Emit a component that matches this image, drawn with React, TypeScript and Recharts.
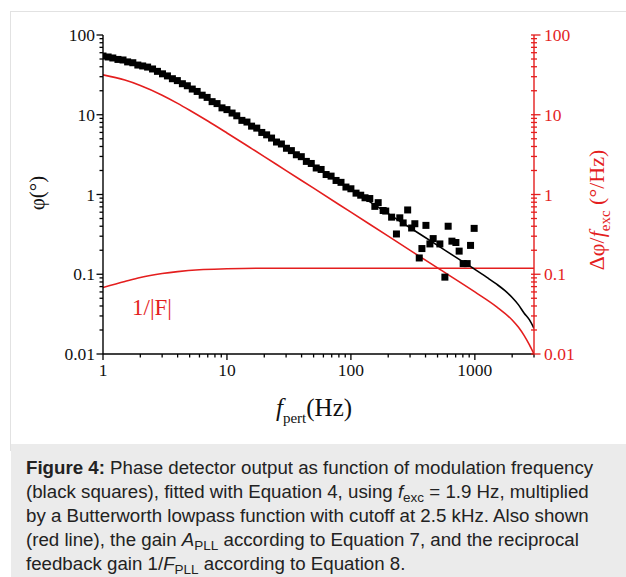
import React from "react";
import { ComposedChart, Line, Scatter, XAxis, YAxis, Label } from "recharts";

// measured phase, dense low-frequency part (Hz, degrees)
const bandFreq = [
    1.0, 1.1, 1.2, 1.32, 1.45, 1.58, 1.74, 1.91, 2.09, 2.29, 2.51, 2.75, 3.02, 3.31,
    3.63, 3.98, 4.37, 4.79, 5.25, 5.75, 6.31, 6.92, 7.59, 8.32, 9.12, 10.0, 11.0, 12.0,
    13.2, 14.5, 15.8, 17.4, 19.1, 20.9, 22.9, 25.1, 27.5, 30.2, 33.1, 36.3, 39.8, 43.7,
    47.9, 52.5, 57.5, 63.1, 69.2, 75.9, 83.2, 91.2, 100, 110, 120,
]
const bandPhase = [
    54.5, 53.0, 51.5, 49.4, 48.6, 46.0, 44.9, 42.0, 40.9, 39.6, 37.5, 35.0, 32.6, 30.7,
    28.3, 26.8, 24.5, 23.1, 21.0, 19.6, 17.6, 16.5, 14.6, 13.8, 12.2, 11.6, 10.5, 9.7,
    8.5, 8.1, 7.2, 6.8, 6.0, 5.6, 5.1, 4.55, 4.3, 3.8, 3.55, 3.15, 2.98, 2.6,
    2.45, 2.15, 2.06, 1.78, 1.7, 1.5, 1.42, 1.24, 1.18, 1.04, 0.98,
]

// measured phase, noisy high-frequency part
const noisyFreq = [
    130, 142, 156, 166, 182, 191, 213, 233, 248, 264, 287, 309, 328, 356,
    374, 403, 434, 461, 522, 573, 609, 653, 703, 747, 805, 867, 923, 987,
]
const noisyPhase = [
    0.91, 0.89, 0.71, 0.79, 0.63, 0.62, 0.52, 0.32, 0.51, 0.44, 0.64, 0.38, 0.43, 0.16,
    0.21, 0.41, 0.24, 0.28, 0.24, 0.092, 0.4, 0.26, 0.25, 0.195, 0.136, 0.136, 0.23, 0.376,
]

// fit (Equation 4 x Butterworth)
const fitFreq = [1, 2, 3, 5, 10, 20, 50, 100, 200, 300, 500, 700, 1000, 1250, 1500, 1750, 2000, 2250, 2500, 2750, 3000]
const fitPhase = [53.5, 41.7, 32.4, 21.5, 11.3, 5.72, 2.3, 1.15, 0.575, 0.383, 0.23, 0.164, 0.115, 0.0913, 0.075, 0.0622, 0.051, 0.0413, 0.0325, 0.027, 0.021]

// gain A_PLL (Equation 7)
const gainFreq = [1, 1.5, 2, 3, 4, 5, 7, 10, 15, 20, 30, 50, 100, 200, 500, 1000, 1500, 2000, 2250, 2500, 2750, 3000]
const gainValue = [31.6, 27.2, 23.3, 17.6, 13.9, 11.4, 8.34, 5.91, 3.97, 2.99, 1.99, 1.2, 0.6, 0.3, 0.12, 0.06, 0.039, 0.0267, 0.0216, 0.017, 0.0131, 0.01]

// reciprocal feedback gain 1/|F| (Equation 8)
const feedbackFreq = [1, 1.5, 2, 3, 4, 6, 10, 20, 100, 1000, 3000]
const feedbackValue = [0.068, 0.081, 0.091, 0.102, 0.108, 0.114, 0.117, 0.119, 0.119, 0.119, 0.119]

const xMajor = [1, 10, 100, 1000]
const xMinor = [2, 3, 4, 5, 6, 7, 8, 9, 20, 30, 40, 50, 60, 70, 80, 90, 200, 300, 400, 500, 600, 700, 800, 900, 2000, 3000]
const yMajor = [0.01, 0.1, 1, 10, 100]
const yMinor = [
    0.02, 0.03, 0.04, 0.05, 0.06, 0.07, 0.08, 0.09, 0.2, 0.3, 0.4, 0.5, 0.6, 0.7, 0.8, 0.9,
    2, 3, 4, 5, 6, 7, 8, 9, 20, 30, 40, 50, 60, 70, 80, 90,
]

const RED = "#e41e1e"
const SERIF = "'Liberation Serif', 'Times New Roman', serif"
const TICK_FONT = 17.5

const toPoints = (fs: number[], vs: number[]) => fs.map((f, i) => ({ f, v: vs[i] }))

const bandData = toPoints(bandFreq, bandPhase)
const noisyData = toPoints(noisyFreq, noisyPhase)
const fitData = toPoints(fitFreq, fitPhase)
const gainData = toPoints(gainFreq, gainValue)
const feedbackData = toPoints(feedbackFreq, feedbackValue)

const xTicks = [...xMajor, ...xMinor].sort((a, b) => a - b)
const yTicks = [...yMajor, ...yMinor].sort((a, b) => a - b)

function BottomTick({ x, y, payload }: any) {
    const major = xMajor.includes(payload.value)
    return (
        <g>
            <line x1={x} x2={x} y1={y} y2={y + (major ? 6 : 3.5)} stroke="#000" strokeWidth={1.3} />
            {major && (
                <text x={x} y={y + 22} textAnchor="middle" fontFamily={SERIF} fontSize={TICK_FONT} fill="#111">
                    {payload.value}
                </text>
            )}
        </g>
    )
}

function TopTick({ x, y, payload }: any) {
    const major = xMajor.includes(payload.value)
    return <line x1={x} x2={x} y1={y} y2={y + (major ? 6 : 3.5)} stroke="#000" strokeWidth={1.3} />
}

function LeftTick({ x, y, payload }: any) {
    const major = yMajor.includes(payload.value)
    return (
        <g>
            <line x1={x - (major ? 6.5 : 3.5)} x2={x} y1={y} y2={y} stroke="#000" strokeWidth={1.3} />
            {major && (
                <text x={x - 8} y={y} dy="0.35em" textAnchor="end" fontFamily={SERIF} fontSize={TICK_FONT} fill="#111">
                    {payload.value}
                </text>
            )}
        </g>
    )
}

function RightTick({ x, y, payload }: any) {
    const major = yMajor.includes(payload.value)
    return (
        <g>
            <line x1={x - 3} x2={x + (major ? 6.5 : 3)} y1={y} y2={y} stroke={RED} strokeWidth={1.3} />
            {major && (
                <text x={x + 10} y={y} dy="0.35em" textAnchor="start" fontFamily={SERIF} fontSize={TICK_FONT} fill={RED}>
                    {payload.value}
                </text>
            )}
        </g>
    )
}

const squareShape = (props: any) => (
    <rect x={props.cx - 3.5} y={props.cy - 3.5} width={7} height={7} fill="#000" />
)

function Chart() {
    return (
        <ComposedChart width={626} height={444} margin={{ top: 35, right: 0, bottom: 0, left: 0 }}>
            <XAxis
                xAxisId="bottom"
                dataKey="f"
                type="number"
                scale="log"
                domain={[1, 3000]}
                allowDataOverflow
                ticks={xTicks}
                interval={0}
                tickSize={0}
                tickMargin={0}
                tick={<BottomTick />}
                axisLine={{ stroke: "#000", strokeWidth: 1.4 }}
                height={90}
            >
                <Label
                    content={() => (
                        <text x={276} y={416} fontFamily={SERIF} fontSize={25} fill="#111">
                            <tspan fontStyle="italic">f</tspan>
                            <tspan fontSize={15} dy={7}>pert</tspan>
                            <tspan dy={-7}>(Hz)</tspan>
                        </text>
                    )}
                />
            </XAxis>
            <XAxis
                xAxisId="top"
                orientation="top"
                dataKey="f"
                type="number"
                scale="log"
                domain={[1, 3000]}
                allowDataOverflow
                ticks={xTicks}
                interval={0}
                tickSize={0}
                tickMargin={0}
                tick={<TopTick />}
                axisLine={{ stroke: "#000", strokeWidth: 1.4 }}
                height={0}
            />
            <YAxis
                yAxisId="left"
                type="number"
                scale="log"
                domain={[0.01, 100]}
                allowDataOverflow
                ticks={yTicks}
                interval={0}
                tickSize={0}
                tickMargin={0}
                tick={<LeftTick />}
                axisLine={{ stroke: "#000", strokeWidth: 1.4 }}
                width={103}
            >
                <Label
                    content={() => (
                        <text
                            x={44}
                            y={193}
                            transform="rotate(-90 44 193)"
                            textAnchor="middle"
                            fontFamily={SERIF}
                            fontSize={21}
                            fill="#111"
                        >
                            φ(°)
                        </text>
                    )}
                />
            </YAxis>
            <YAxis
                yAxisId="right"
                orientation="right"
                type="number"
                scale="log"
                domain={[0.01, 100]}
                allowDataOverflow
                ticks={yTicks}
                interval={0}
                tickSize={0}
                tickMargin={0}
                tick={<RightTick />}
                axisLine={{ stroke: RED, strokeWidth: 1.4 }}
                width={92}
            >
                <Label
                    content={() => (
                        <text
                            x={604}
                            y={210}
                            transform="rotate(-90 604 210)"
                            textAnchor="middle"
                            fontFamily={SERIF}
                            fontSize={22}
                            fill={RED}
                        >
                            Δφ/<tspan fontStyle="italic">f</tspan>
                            <tspan fontSize={15} dy={6}>exc</tspan>
                            <tspan dy={-6}> (°/Hz)</tspan>
                        </text>
                    )}
                />
            </YAxis>

            <Line
                data={feedbackData}
                xAxisId="bottom"
                yAxisId="right"
                dataKey="v"
                type="monotone"
                stroke={RED}
                strokeWidth={1.6}
                dot={false}
                isAnimationActive={false}
            />
            <Line
                data={gainData}
                xAxisId="bottom"
                yAxisId="right"
                dataKey="v"
                type="monotone"
                stroke={RED}
                strokeWidth={1.6}
                dot={false}
                isAnimationActive={false}
            />
            <Line
                data={fitData}
                xAxisId="bottom"
                yAxisId="left"
                dataKey="v"
                type="monotone"
                stroke="#000"
                strokeWidth={1.6}
                dot={false}
                isAnimationActive={false}
            />
            <Scatter
                data={bandData}
                xAxisId="bottom"
                yAxisId="left"
                dataKey="v"
                shape={squareShape}
                isAnimationActive={false}
            />
            <Scatter
                data={noisyData}
                xAxisId="bottom"
                yAxisId="left"
                dataKey="v"
                shape={squareShape}
                isAnimationActive={false}
            />
            <text x={132} y={315} fontFamily={SERIF} fontSize={23} fill={RED}>
                1/|F|
            </text>
        </ComposedChart>
    )
}

const subStyle: React.CSSProperties = { fontSize: 13.5, position: "relative", top: 4, lineHeight: 0 }

export default function App() {
    return (
        <div style={{ position: "absolute", left: 0, top: 0, width: 626, height: 577, overflow: "hidden", background: "#fff" }}>
            <div
                style={{
                    position: "absolute",
                    left: 10,
                    top: 11,
                    width: 640,
                    height: 440,
                    border: "1px solid #e2e2e2",
                    boxSizing: "border-box",
                }}
            />
            <div style={{ position: "absolute", left: 0, top: 0 }}>
                <Chart />
            </div>
            <div
                style={{
                    position: "absolute",
                    left: 11,
                    top: 444,
                    width: 640,
                    height: 140,
                    background: "#ebebeb",
                    boxSizing: "border-box",
                    padding: "12px 0 0 15px",
                    fontFamily: "'Liberation Sans', Arial, sans-serif",
                    fontSize: 18.7,
                    lineHeight: "24px",
                    color: "#222",
                    whiteSpace: "nowrap",
                }}
            >
                <b>Figure 4:</b> Phase detector output as function of modulation frequency
                <br />
                (black squares), fitted with Equation 4, using <i>f</i>
                <span style={subStyle}>exc</span> = 1.9 Hz, multiplied
                <br />
                by a Butterworth lowpass function with cutoff at 2.5 kHz. Also shown
                <br />
                (red line), the gain <i>A</i>
                <span style={subStyle}>PLL</span> according to Equation 7, and the reciprocal
                <br />
                feedback gain 1/<i>F</i>
                <span style={subStyle}>PLL</span> according to Equation 8.
            </div>
        </div>
    )
}
